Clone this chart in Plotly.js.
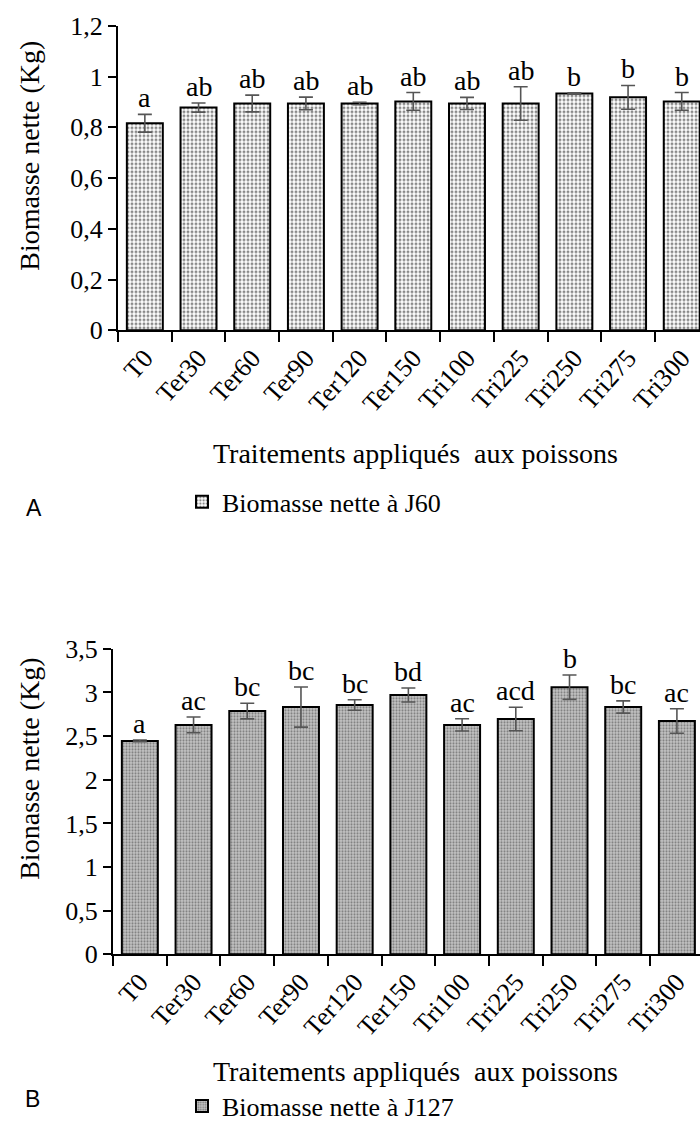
<!DOCTYPE html>
<html><head><meta charset="utf-8">
<script src="https://cdn.plot.ly/plotly-3.0.1.min.js"></script>
<style>html,body{margin:0;padding:0;background:#fff}</style>
</head><body>
<div id="chart" style="width:700px;height:1130px"></div>
<script>
const categories = ['T0','Ter30','Ter60','Ter90','Ter120','Ter150','Tri100','Tri225','Tri250','Tri275','Tri300'];
const j60 = [0.816, 0.878, 0.894, 0.894, 0.894, 0.902, 0.894, 0.894, 0.933, 0.918, 0.902];
const j60Err = [0.035, 0.018, 0.033, 0.025, 0.005, 0.035, 0.024, 0.066, 0.003, 0.047, 0.035];
const j60Letters = ['a','ab','ab','ab','ab','ab','ab','ab','b','b','b'];
const j127 = [2.445, 2.628, 2.787, 2.833, 2.856, 2.97, 2.628, 2.696, 3.06, 2.833, 2.673];
const j127Err = [0.01, 0.09, 0.09, 0.23, 0.06, 0.08, 0.07, 0.135, 0.14, 0.07, 0.14];
const j127Letters = ['a','ac','bc','bc','bc','bd','ac','acd','b','bc','ac'];
const seriesNames = ['Biomasse nette à J60', 'Biomasse nette à J127'];
const yTitles = ['Biomasse nette (Kg)', 'Bionasse nette (Kg)'];
const xTitle = 'Traitements appliqués  aux poissons';
const panelLetters = ['A', 'B'];

const W = 700, H = 1130;
const serif = 'Liberation Serif, Times New Roman, serif';
const py = v => 1 - v / H;

const errStyle = {type:'data', color:'#555', thickness:1.6, width:7};
const traces = [
  {type:'bar', x:categories, y:j60, name:seriesNames[0], xaxis:'x', yaxis:'y', legend:'legend',
   error_y:Object.assign({array:j60Err}, errStyle),
   marker:{color:'#fff', line:{color:'#000', width:2},
     pattern:{shape:'.', fgcolor:'#8a8a8a', bgcolor:'#ffffff', size:4, solidity:0.45}}},
  {type:'bar', x:categories, y:j127, name:seriesNames[1], xaxis:'x2', yaxis:'y2', legend:'legend2',
   error_y:Object.assign({array:j127Err}, errStyle),
   marker:{color:'#bbb', line:{color:'#000', width:2},
     pattern:{shape:'.', fgcolor:'#7a7a7a', bgcolor:'#c4c4c4', size:3, solidity:0.4}}}
];

const tickFont = {family:serif, size:26, color:'#000'};
const xCommon = {type:'category', showline:true, linecolor:'#000', linewidth:2, ticks:'outside',
  tickson:'boundaries', ticklen:10, tickwidth:2, tickcolor:'#000', tickangle:-48,
  tickfont:tickFont, showgrid:false, zeroline:false, fixedrange:true};
const yCommon = {showline:true, linecolor:'#000', linewidth:2, ticks:'outside', ticklen:8,
  tickwidth:2, tickcolor:'#000', tickfont:tickFont, showgrid:false, zeroline:false};

const annotations = [];
const letterFont = {family:serif, size:28, color:'#000'};
categories.forEach((c, i) => {
  annotations.push({x:c, y:j60[i] + j60Err[i], xref:'x', yref:'y', text:j60Letters[i],
    showarrow:false, xanchor:'center', yanchor:'bottom', yshift:-1, font:letterFont});
  annotations.push({x:c, y:j127[i] + j127Err[i], xref:'x2', yref:'y2', text:j127Letters[i],
    showarrow:false, xanchor:'center', yanchor:'bottom', yshift:-1, font:letterFont});
});
const titleFont = {family:serif, size:28, color:'#000'};
const sans = {family:'Liberation Sans, Arial, sans-serif', size:23, color:'#000'};
const paperNote = (x, y, text, font, angle) => ({x:x/W, y:py(y), xref:'paper', yref:'paper', text:text,
  textangle:angle || 0, showarrow:false, xanchor:'center', yanchor:'middle', font:font});
annotations.push(paperNote(30, 157, yTitles[0], titleFont, -90));
annotations.push(paperNote(30, 775, yTitles[1], titleFont, -90));
annotations.push(paperNote(415, 457, xTitle, titleFont));
annotations.push(paperNote(415, 1080, xTitle, titleFont));
annotations.push(paperNote(34, 512, panelLetters[0], sans));
annotations.push(paperNote(32, 1108, panelLetters[1], sans));

const layout = {
  width:W, height:H, margin:{l:0, r:0, t:0, b:0},
  paper_bgcolor:'#fff', plot_bgcolor:'#fff',
  separators:', ', bargap:0.33, showlegend:true,
  xaxis:Object.assign({}, xCommon, {domain:[118/W, 1], anchor:'y', range:[-0.5, 10.34]}),
  yaxis:Object.assign({}, yCommon, {domain:[py(333), py(26)], anchor:'x', range:[0, 1.2], dtick:0.2}),
  xaxis2:Object.assign({}, xCommon, {domain:[113/W, 1], anchor:'y2', range:[-0.5, 10.43]}),
  yaxis2:Object.assign({}, yCommon, {domain:[py(962), py(654)], anchor:'x2', range:[0, 3.5], dtick:0.5}),
  legend:{x:182/W, y:py(506), xanchor:'left', yanchor:'middle', bgcolor:'rgba(0,0,0,0)',
    font:{family:serif, size:26, color:'#000'}, itemwidth:30},
  legend2:{x:182/W, y:py(1115), xanchor:'left', yanchor:'middle', bgcolor:'rgba(0,0,0,0)',
    font:{family:serif, size:26, color:'#000'}, itemwidth:30},
  annotations:annotations
};
Plotly.newPlot('chart', traces, layout, {displayModeBar:false, staticPlot:true});
</script>
</body></html>
